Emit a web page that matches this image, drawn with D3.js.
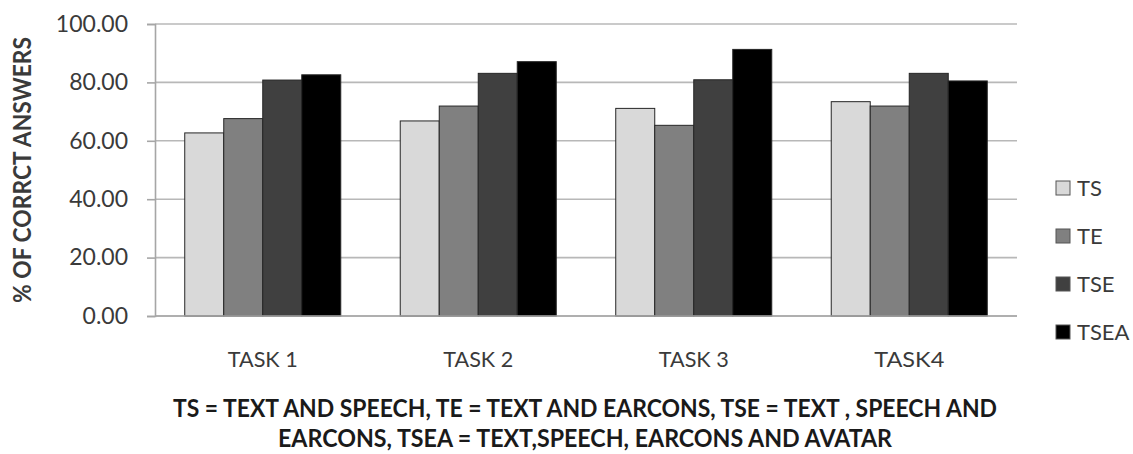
<!DOCTYPE html>
<html>
<head>
<meta charset="utf-8">
<script src="https://cdn.jsdelivr.net/npm/d3@7"></script>
<style>
  html, body { margin: 0; padding: 0; background: #fff; }
  svg { display: block; }
  text { font-family: Lato, "Open Sans", sans-serif; }
</style>
</head>
<body>
<svg id="chart" width="1133" height="454"></svg>
<script>
// Percentage of correct answers per task, for each presentation mode
const tasks = ["TASK 1", "TASK 2", "TASK 3", "TASK4"];
const modes = ["TS", "TE", "TSE", "TSEA"];
const TS   = [62.7, 66.8, 71.1, 73.4];
const TE   = [67.6, 71.9, 65.3, 71.9];
const TSE  = [80.8, 83.1, 80.9, 83.1];
const TSEA = [82.6, 87.1, 91.3, 80.5];
const yTicks = [0, 20, 40, 60, 80, 100];
const yTitle = "% OF CORRCT ANSWERS";
const noteLines = [
  "TS = TEXT AND SPEECH, TE = TEXT AND EARCONS, TSE = TEXT , SPEECH AND",
  "EARCONS, TSEA = TEXT,SPEECH, EARCONS AND AVATAR"
];

const seriesValues = { TS, TE, TSE, TSEA };
const fills = { TS: "#d9d9d9", TE: "#808080", TSE: "#404040", TSEA: "#000000" };

const svg = d3.select("#chart");
const plot = { left: 155, right: 1017, top: 24, bottom: 316 };

const x0 = d3.scaleBand()
  .domain(tasks)
  .range([plot.left, plot.right])
  .paddingInner(0.276)
  .paddingOuter(0.138);

const x1 = d3.scaleBand()
  .domain(modes)
  .range([0, x0.bandwidth()])
  .padding(0);

const y = d3.scaleLinear()
  .domain([0, 100])
  .range([plot.bottom, plot.top]);

// Horizontal gridlines
svg.append("g")
  .selectAll("line")
  .data(yTicks)
  .join("line")
  .attr("x1", plot.left)
  .attr("x2", plot.right)
  .attr("y1", d => y(d))
  .attr("y2", d => y(d))
  .attr("stroke", "#b8b8b8")
  .attr("stroke-width", 1.6);

// Value axis
const yAxis = svg.append("g")
  .attr("transform", `translate(${plot.left},0)`)
  .call(d3.axisLeft(y).tickValues(yTicks).tickFormat(d3.format(".2f")).tickSize(8).tickPadding(19));
yAxis.select(".domain").attr("stroke", "#a6a6a6").attr("stroke-width", 1.6);
yAxis.selectAll(".tick line").attr("stroke", "#a6a6a6").attr("stroke-width", 1.6);
yAxis.selectAll(".tick text")
  .attr("fill", "#3a3a3a")
  .style("font-family", "Lato, sans-serif")
  .style("font-size", "23px");

// Bars
const groups = svg.append("g")
  .selectAll("g")
  .data(tasks)
  .join("g")
  .attr("transform", d => `translate(${x0(d)},0)`);

groups.selectAll("rect")
  .data((d, i) => modes.map(m => ({ mode: m, value: seriesValues[m][i] })))
  .join("rect")
  .attr("x", d => x1(d.mode))
  .attr("y", d => y(d.value))
  .attr("width", x1.bandwidth())
  .attr("height", d => y(0) - y(d.value))
  .attr("fill", d => fills[d.mode])
  .attr("stroke", "#262626")
  .attr("stroke-width", 1);

// Bottom axis line
svg.append("line")
  .attr("x1", plot.left).attr("x2", plot.right)
  .attr("y1", y(0)).attr("y2", y(0))
  .attr("stroke", "#a6a6a6").attr("stroke-width", 1.6);

// Category labels
svg.append("g")
  .selectAll("text")
  .data(tasks)
  .join("text")
  .attr("x", d => x0(d) + x0.bandwidth() / 2)
  .attr("y", 367)
  .attr("text-anchor", "middle")
  .attr("fill", "#3a3a3a")
  .attr("textLength", 70)
  .attr("lengthAdjust", "spacingAndGlyphs")
  .style("font-size", "22px")
  .text(d => d);

// Value axis title
svg.append("text")
  .attr("transform", "translate(31,170) rotate(-90)")
  .attr("text-anchor", "middle")
  .attr("fill", "#3a3a3a")
  .attr("textLength", 266)
  .attr("lengthAdjust", "spacingAndGlyphs")
  .style("font-size", "24px")
  .style("font-weight", "bold")
  .text(yTitle);

// Legend
const legend = svg.append("g")
  .selectAll("g")
  .data(modes)
  .join("g")
  .attr("transform", (d, i) => `translate(1056,${188 + i * 48})`);

legend.append("rect")
  .attr("x", 0).attr("y", -7)
  .attr("width", 14).attr("height", 14)
  .attr("fill", d => fills[d])
  .attr("stroke", "#555")
  .attr("stroke-width", 1);

legend.append("text")
  .attr("x", 21)
  .attr("dy", "0.36em")
  .attr("fill", "#3a3a3a")
  .style("font-size", "22px")
  .text(d => d);

// Footnote explaining the abbreviations
const noteWidths = [824, 614];
svg.append("g")
  .selectAll("text")
  .data(noteLines)
  .join("text")
  .attr("x", 585)
  .attr("y", (d, i) => 417 + i * 30)
  .attr("text-anchor", "middle")
  .attr("fill", "#1a1a1a")
  .attr("textLength", (d, i) => noteWidths[i])
  .attr("lengthAdjust", "spacingAndGlyphs")
  .style("font-size", "25px")
  .style("font-weight", "bold")
  .text(d => d);
</script>
</body>
</html>
